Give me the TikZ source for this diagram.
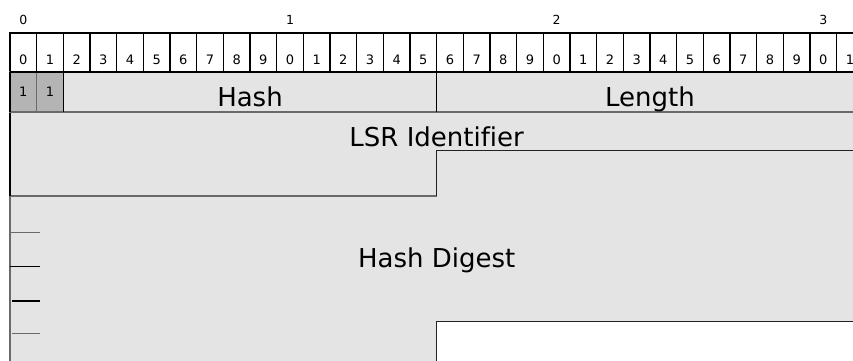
\documentclass[tikz,border=0pt]{standalone}
\usepackage{fontspec}
\setmainfont[Ligatures=NoCommon]{DejaVu Sans}
\definecolor{fieldfill}{HTML}{E4E4E4}
\definecolor{flagfill}{HTML}{B4B4B4}
\definecolor{rulegray}{HTML}{6A6A6A}
\definecolor{edgedark}{HTML}{222222}

\tikzset{
  hdrcell/.style={draw=black, line width=1.2pt, fill=white},
  fieldline/.style={draw=rulegray, line width=1.1pt},
  darkline/.style={draw=edgedark, line width=1.1pt},
  scalenum/.style={inner sep=0pt, anchor=base, font=\fontsize{12.5}{12.5}\selectfont},
  bitnum/.style={inner sep=0pt, anchor=base, font=\fontsize{13}{13}\selectfont},
  flagnum/.style={inner sep=0pt, anchor=base, font=\fontsize{13}{13}\selectfont},
  fieldlabel/.style={inner sep=0pt, anchor=base, font=\fontsize{26}{26}\selectfont},
  sidetick/.style={line width=1.2pt},
}

\begin{document}
\begin{tikzpicture}[x=1pt,y=-1pt]
\useasboundingbox (0,0) rectangle (853,360);
\def\w{26.6667}
\def\xl{10}
\def\xm{436.67}
\def\xr{863.33}

% bit scale above the header
\foreach \i/\d in {0/0,10/1,20/2,30/3}
  \node[scalenum] (s\i) at ({\xl+(\i+0.5)*\w},24) {\d};

% header row with bit positions
\foreach \i in {0,...,31} {
  \pgfmathtruncatemacro\d{mod(\i,10)}
  \path[hdrcell] ({\xl+\i*\w},33) rectangle ({\xl+(\i+1)*\w},72);
  \node[bitnum] (b\i) at ({\xl+(\i+0.5)*\w},64) {\d};
}

% hash digest field (drawn first, under the others)
\path[fill=fieldfill] (\xl,196) -- (\xm,196) -- (\xm,150.7) -- (\xr,150.7)
  -- (\xr,321.7) -- (\xm,321.7) -- (\xm,370) -- (\xl,370) -- cycle;
\draw[darkline] (\xr,321.7) -- (\xm,321.7) -- (\xm,370);
\draw[draw=rulegray, line width=1.5pt] (\xl,196) -- (\xl,370);

% LSR identifier field
\path[fieldline, fill=fieldfill] (\xl,112) -- (\xr,112) -- (\xr,150.7)
  -- (\xm,150.7) -- (\xm,196) -- (\xl,196) -- cycle;
\draw[darkline, line width=1pt] (\xr,150.7) -- (\xm,150.7) -- (\xm,196);
\draw[black, line width=1.1pt] (\xl,112) -- (\xl,196);

% first row: flags, hash, length
\path[fieldline, fill=flagfill] (\xl,72) rectangle ({\xl+\w},112);
\path[fieldline, fill=flagfill] ({\xl+\w},72) rectangle ({\xl+2*\w},112);
\path[fieldline, fill=fieldfill] ({\xl+2*\w},72) rectangle (\xm,112);
\path[fieldline, fill=fieldfill] (\xm,72) rectangle (\xr,112);
\draw[black, line width=1.1pt] (\xm,72) -- (\xm,112);
\draw[black, line width=1.1pt] (\xl,72) -- (\xl,112);
\draw[black, line width=1.1pt] ({\xl+2*\w},72) -- ({\xl+2*\w},112);
\draw[black, line width=1.2pt] (\xl,72) -- (\xr,72);

\node[flagnum] (f0) at ({\xl+0.5*\w},96.5) {1};
\node[flagnum] (f1) at ({\xl+1.5*\w},96.5) {1};
\node[fieldlabel] (hash) at ({(\xl+2*\w+\xm)/2},106.5) {Hash};
\node[fieldlabel] (len) at ({(\xm+\xr)/2},106.5) {Length};
\node[fieldlabel] (lsr) at (\xm,146.5) {LSR Identifier};
\node[fieldlabel] (digest) at (\xm,267) {Hash Digest};

% short marks along the left edge of the digest
\draw[sidetick, rulegray] (\xl,232.7) -- (39.5,232.7);
\draw[sidetick, black] (\xl,266.3) -- (39.5,266.3);
\draw[sidetick, black] (12,301) -- (40,301);
\draw[sidetick, rulegray] (12,333.7) -- (40,333.7);
\end{tikzpicture}
\end{document}
